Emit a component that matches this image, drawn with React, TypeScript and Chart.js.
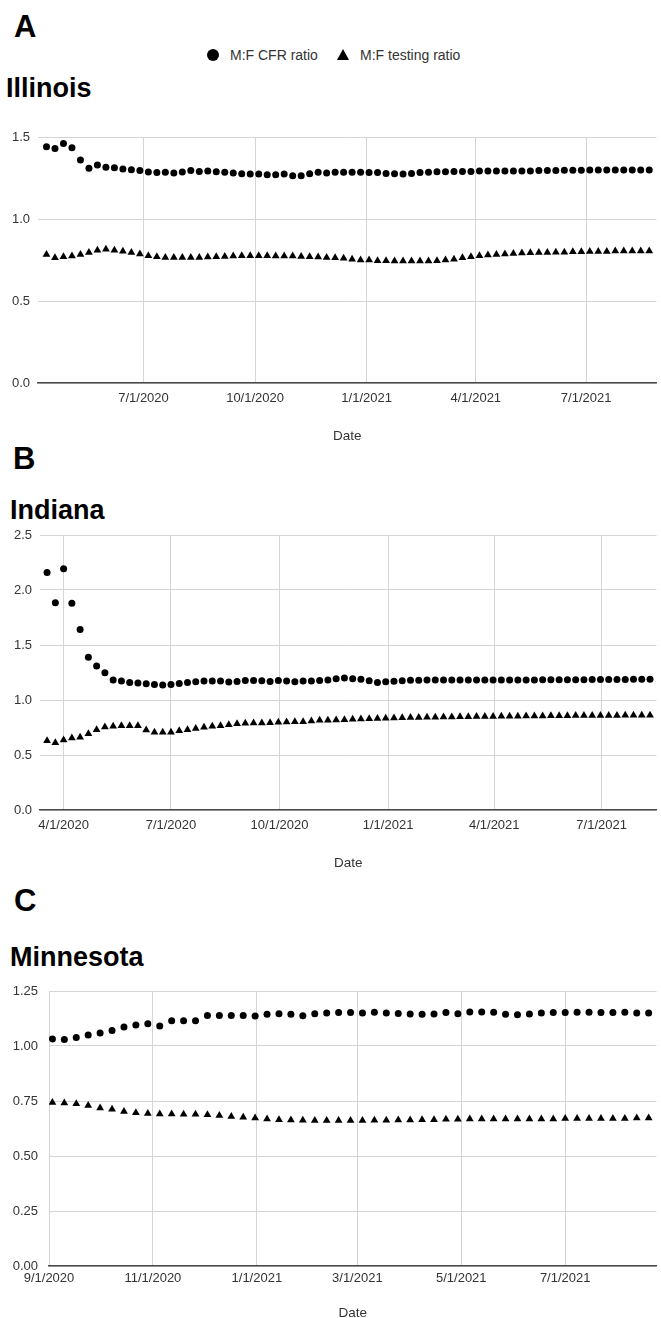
import React, { useEffect, useRef } from "react";
import { Chart, registerables } from "chart.js";

Chart.register(...registerables);

const FONT = '"Liberation Sans", Arial, Helvetica, sans-serif';
const DAY = 86400000;
const dayNum = (iso: string) =>
  Date.UTC(+iso.slice(0, 4), +iso.slice(5, 7) - 1, +iso.slice(8, 10)) / DAY;
const fmtDate = (d: number) => {
  const dt = new Date(Math.round(d) * DAY);
  return `${dt.getUTCMonth() + 1}/${dt.getUTCDate()}/${dt.getUTCFullYear()}`;
};
const weekly = (start: string, n: number) =>
  Array.from({ length: n }, (_, i) => dayNum(start) + 7 * i);

// ---------------- DATA ----------------
const SERIES_LABELS = ["M:F CFR ratio", "M:F testing ratio"];

// Illinois (weekly from 4/12/2020)
const IL_START = "2020-04-12";
const IL_CFR = [
  1.44, 1.43, 1.46, 1.435, 1.36, 1.31, 1.33, 1.315, 1.313, 1.305,
  1.3, 1.295, 1.287, 1.283, 1.285, 1.28, 1.287, 1.295, 1.29, 1.293,
  1.288, 1.285, 1.28, 1.276, 1.274, 1.274, 1.27, 1.27, 1.274, 1.264,
  1.264, 1.276, 1.285, 1.28,
  1.285, 1.285, 1.285, 1.285, 1.283, 1.283, 1.278, 1.276, 1.274, 1.278,
  1.283, 1.285, 1.288, 1.288, 1.29, 1.29, 1.29, 1.292, 1.292, 1.292,
  1.292, 1.293, 1.293, 1.293, 1.295, 1.295, 1.295, 1.297, 1.297, 1.297,
  1.299, 1.299, 1.299, 1.299, 1.299, 1.299, 1.299, 1.299,
];
const IL_TEST = [
  0.783, 0.764, 0.77, 0.774, 0.784, 0.796, 0.81, 0.816, 0.81, 0.803,
  0.796, 0.786, 0.776, 0.77, 0.766, 0.766, 0.766, 0.766, 0.766, 0.768,
  0.77, 0.772, 0.774, 0.776, 0.776, 0.776, 0.776, 0.774, 0.774, 0.774,
  0.772, 0.77, 0.768, 0.766,
  0.764, 0.76, 0.754, 0.75, 0.75, 0.746, 0.746, 0.744, 0.744, 0.744,
  0.744, 0.744, 0.746, 0.75, 0.754, 0.764, 0.77, 0.776, 0.78, 0.784,
  0.786, 0.79, 0.792, 0.794, 0.796, 0.796, 0.798, 0.798, 0.8, 0.8,
  0.802, 0.802, 0.802, 0.805, 0.805, 0.805, 0.805, 0.805,
];
const IL_TICKS = ["2020-07-01", "2020-10-01", "2021-01-01", "2021-04-01", "2021-07-01"];

// Indiana (weekly from 3/18/2020)
const IN_START = "2020-03-18";
const IN_CFR = [
  2.16, 1.885, 2.194, 1.88, 1.64, 1.388, 1.31, 1.248, 1.182, 1.173,
  1.16, 1.154, 1.148, 1.142, 1.136, 1.142, 1.151, 1.16, 1.166, 1.173,
  1.173, 1.173, 1.163, 1.169, 1.178, 1.178, 1.175, 1.169, 1.178, 1.173,
  1.166, 1.173, 1.173, 1.178,
  1.182, 1.194, 1.2, 1.194, 1.188, 1.176, 1.16, 1.166, 1.17, 1.176,
  1.18, 1.18, 1.182, 1.182, 1.182, 1.182, 1.182, 1.182, 1.182, 1.182,
  1.182, 1.182, 1.182, 1.182, 1.182, 1.182, 1.184, 1.184, 1.184, 1.184,
  1.184, 1.184, 1.186, 1.186, 1.186, 1.186, 1.186, 1.188, 1.188, 1.188,
];
const IN_TEST = [
  0.63, 0.612, 0.636, 0.655, 0.661, 0.694, 0.73, 0.755, 0.761, 0.767,
  0.767, 0.767, 0.727, 0.706, 0.706, 0.706, 0.721, 0.73, 0.742, 0.752,
  0.761, 0.767, 0.776, 0.785, 0.788, 0.791, 0.791, 0.794, 0.797, 0.8,
  0.803, 0.803, 0.809, 0.815,
  0.815, 0.818, 0.821, 0.824, 0.827, 0.83, 0.832, 0.834, 0.836, 0.838,
  0.84, 0.842, 0.843, 0.844, 0.845, 0.846, 0.847, 0.848, 0.849, 0.85,
  0.851, 0.852, 0.853, 0.853, 0.854, 0.855, 0.855, 0.856, 0.857, 0.857,
  0.858, 0.858, 0.859, 0.859, 0.86, 0.86, 0.861, 0.861, 0.862, 0.862,
];
const IN_TICKS = ["2020-04-01", "2020-07-01", "2020-10-01", "2021-01-01", "2021-04-01", "2021-07-01"];

// Minnesota (weekly from 9/3/2020)
const MN_START = "2020-09-03";
const MN_CFR = [
  1.032, 1.03, 1.039, 1.05, 1.059, 1.071, 1.086, 1.095, 1.101, 1.091,
  1.115, 1.115, 1.115, 1.139, 1.139, 1.139, 1.139, 1.136, 1.144, 1.147,
  1.144, 1.138, 1.147, 1.15,
  1.152, 1.152, 1.15, 1.153, 1.15, 1.148, 1.145, 1.144, 1.145, 1.152,
  1.147, 1.155, 1.155, 1.153, 1.144, 1.142, 1.145, 1.15, 1.152, 1.152,
  1.153, 1.153, 1.152, 1.152, 1.153, 1.15, 1.15,
];
const MN_TEST = [
  0.743, 0.741, 0.737, 0.729, 0.718, 0.712, 0.702, 0.697, 0.693, 0.691,
  0.691, 0.69, 0.69, 0.688, 0.684, 0.679, 0.676, 0.673, 0.668, 0.665,
  0.664, 0.662, 0.661, 0.661,
  0.661, 0.661, 0.661, 0.662, 0.662, 0.664, 0.664, 0.665, 0.665, 0.667,
  0.667, 0.668, 0.668, 0.668, 0.668, 0.668, 0.668, 0.668, 0.668, 0.67,
  0.67, 0.67, 0.67, 0.671, 0.671, 0.673, 0.673,
];
const MN_TICKS = ["2020-09-01", "2020-11-01", "2021-01-01", "2021-03-01", "2021-05-01", "2021-07-01"];

// ---------------- PANELS ----------------
type PanelCfg = {
  start: string;
  cfr: number[];
  test: number[];
  ticks: string[];
  xMin: number;
  xMax: number;
  yMax: number;
  yStep: number;
  yDec: number;
  yW: number;
  yPad: number;
  xPad: number;
  xH: number;
  plotTop: number;
  plotH: number;
};

const PANELS: PanelCfg[] = [
  {
    start: IL_START, cfr: IL_CFR, test: IL_TEST, ticks: IL_TICKS,
    xMin: dayNum("2020-04-05"), xMax: dayNum("2020-04-05") + 510,
    yMax: 1.5, yStep: 0.5, yDec: 1, yW: 38, yPad: 8, xPad: 8, xH: 61,
    plotTop: 137, plotH: 246,
  },
  {
    start: IN_START, cfr: IN_CFR, test: IN_TEST, ticks: IN_TICKS,
    xMin: dayNum("2020-03-12"), xMax: dayNum("2020-03-12") + 522.5,
    yMax: 2.5, yStep: 0.5, yDec: 1, yW: 40, yPad: 8, xPad: 8, xH: 61,
    plotTop: 535, plotH: 275,
  },
  {
    start: MN_START, cfr: MN_CFR, test: MN_TEST, ticks: MN_TICKS,
    xMin: dayNum("2020-09-01"), xMax: dayNum("2020-09-01") + 356.6,
    yMax: 1.25, yStep: 0.25, yDec: 2, yW: 49, yPad: 11, xPad: 5, xH: 55,
    plotTop: 991, plotH: 275,
  },
];

function PanelChart({ cfg }: { cfg: PanelCfg }) {
  const ref = useRef<HTMLCanvasElement | null>(null);
  // top padding must cover half a tick label plus the tick padding
  const padTop = Math.ceil(8 + cfg.yPad);
  const top = cfg.plotTop - padTop;
  const height = padTop + cfg.plotH + cfg.xH;
  useEffect(() => {
    if (!ref.current) return;
    const dates = weekly(cfg.start, cfg.cfr.length);
    const tickVals = cfg.ticks.map(dayNum);
    const tickFont = { family: FONT, size: 13 };
    const chart = new Chart(ref.current, {
      type: "scatter",
      data: {
        datasets: [
          {
            label: SERIES_LABELS[0],
            data: dates.map((d, i) => ({ x: d, y: cfg.cfr[i] })),
            pointStyle: "circle",
            pointRadius: 3.5,
            backgroundColor: "#000",
            borderColor: "#000",
            borderWidth: 0,
          },
          {
            label: SERIES_LABELS[1],
            data: dates.map((d, i) => ({ x: d, y: cfg.test[i] })),
            pointStyle: "triangle",
            pointRadius: 4.5,
            backgroundColor: "#000",
            borderColor: "#000",
            borderWidth: 0,
          },
        ],
      },
      options: {
        animation: false,
        responsive: false,
        events: [],
        layout: { padding: { top: padTop, left: 0, right: 0, bottom: 0 } },
        plugins: { legend: { display: false }, tooltip: { enabled: false } },
        scales: {
          x: {
            type: "linear",
            min: cfg.xMin,
            max: cfg.xMax,
            afterBuildTicks: (s: any) => {
              s.ticks = tickVals.map((v) => ({ value: v }));
            },
            afterFit: (s: any) => {
              s.height = cfg.xH;
            },
            grid: { color: "#d4d4d4", lineWidth: 1, drawTicks: false },
            border: { display: true, color: "#4a4a4a", width: 1.5 },
            ticks: {
              autoSkip: false,
              maxRotation: 0,
              padding: cfg.xPad,
              color: "#333",
              font: tickFont,
              callback: (v: any) => fmtDate(Number(v)),
            },
            title: {
              display: true,
              text: "Date",
              color: "#333",
              font: { family: FONT, size: 13.5 },
              padding: { top: 0, bottom: 0 },
            },
          },
          y: {
            min: 0,
            max: cfg.yMax,
            afterFit: (s: any) => {
              s.width = cfg.yW;
            },
            grid: { color: "#d4d4d4", lineWidth: 1, drawTicks: false },
            border: { display: false },
            ticks: {
              stepSize: cfg.yStep,
              padding: cfg.yPad,
              color: "#333",
              font: tickFont,
              callback: (v: any) => Number(v).toFixed(cfg.yDec),
            },
          },
        },
      },
    } as any);
    return () => chart.destroy();
  }, [cfg]);
  return (
    <canvas
      ref={ref}
      width={661}
      height={height}
      style={{ position: "absolute", left: 0, top, width: 661, height }}
    />
  );
}

const textAbs = (left: number, top: number, size: number, bold: boolean): React.CSSProperties => ({
  position: "absolute",
  left,
  top,
  fontFamily: FONT,
  fontSize: size,
  lineHeight: `${size}px`,
  fontWeight: bold ? 700 : 400,
  color: "#000",
  whiteSpace: "nowrap",
});

export default function App() {
  useEffect(() => {
    document.body.style.margin = "0";
  }, []);
  return (
    <div style={{ position: "relative", width: 661, height: 1318, overflow: "hidden", background: "#fff" }}>
      <div style={textAbs(14, 11, 31, true)}>A</div>
      <div style={textAbs(6, 74.5, 27, true)}>Illinois</div>
      <div style={textAbs(13, 443, 31, true)}>B</div>
      <div style={textAbs(10, 496.5, 27, true)}>Indiana</div>
      <div style={textAbs(14, 885, 31, true)}>C</div>
      <div style={textAbs(10, 943.5, 27, true)}>Minnesota</div>

      {/* legend */}
      <div
        style={{
          position: "absolute",
          left: 207,
          top: 49,
          width: 12,
          height: 12,
          borderRadius: "50%",
          background: "#000",
        }}
      />
      <div style={{ ...textAbs(230, 48, 14, false), color: "#333" }}>{SERIES_LABELS[0]}</div>
      <div
        style={{
          position: "absolute",
          left: 337,
          top: 49,
          width: 0,
          height: 0,
          borderLeft: "6px solid transparent",
          borderRight: "6px solid transparent",
          borderBottom: "11px solid #000",
        }}
      />
      <div style={{ ...textAbs(360, 48, 14, false), color: "#333" }}>{SERIES_LABELS[1]}</div>

      {PANELS.map((p, i) => (
        <PanelChart key={i} cfg={p} />
      ))}
    </div>
  );
}
